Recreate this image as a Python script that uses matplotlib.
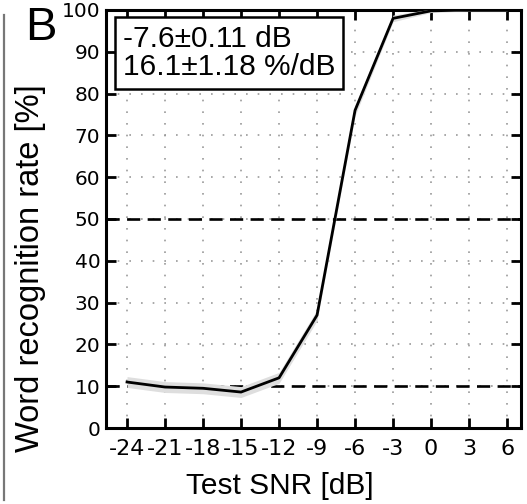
import matplotlib
matplotlib.use('Agg')
import matplotlib.pyplot as plt
from matplotlib.lines import Line2D
import numpy as np

# data
snr = [-24, -21, -18, -15, -12, -9, -6, -3, 0, 3, 6]
rate = [11.0, 9.8, 9.5, 8.6, 12.0, 27.0, 76.0, 98.0, 99.8, 100.0, 100.0]
band = [1.3, 1.3, 1.3, 1.3, 1.3, 1.3, 1.3, 0.8, 0.4, 0.2, 0.2]
ref_levels = [50, 10]
xticks = [-24, -21, -18, -15, -12, -9, -6, -3, 0, 3, 6]
yticks = [0, 10, 20, 30, 40, 50, 60, 70, 80, 90, 100]
fit_text = '-7.6±0.11 dB\n16.1±1.18 %/dB'

W, H = 527, 504
fig = plt.figure(figsize=(W / 100, H / 100), dpi=100)
ax = fig.add_axes([106 / W, 1 - 428 / H, 415 / W, 418 / H])

lo = np.array(rate) - np.array(band)
hi = np.array(rate) + np.array(band)

for lvl in ref_levels:
    ax.axhline(lvl, color='black', lw=1.9, ls=(0, (5, 2.8)), zorder=2)
ax.fill_between(snr, lo, hi, color='#dedede', lw=0, zorder=3)
ax.plot(snr, rate, color='black', lw=2.0, zorder=4)

ax.set_xlim(-25.66, 7.1)
ax.set_ylim(0, 100)
ax.set_xticks(xticks)
ax.set_yticks(yticks)
ax.set_xticklabels([str(v) for v in xticks], fontfamily='DejaVu Sans', fontsize=16)
ax.set_yticklabels([str(v) for v in yticks], fontfamily='DejaVu Sans', fontsize=14.5)
ax.tick_params(direction='in', length=7.5, width=2, top=True, right=True)
ax.tick_params(axis='x', pad=8)
ax.tick_params(axis='y', pad=4)
ax.grid(True, color='#999999', lw=1.2, ls=(0, (1, 6)), zorder=1)
for s in ax.spines.values():
    s.set_linewidth(2.2)

ax.set_xlabel('Test SNR [dB]', fontfamily='Liberation Sans', fontsize=21.5)
ax.set_ylabel('Word recognition rate [%]', fontfamily='Liberation Sans', fontsize=23.5)
ax.xaxis.set_label_coords(0.42, -0.105)
ax.yaxis.set_label_coords(-0.145, 0.383)

# fit parameters box
fig.text(123 / W, 1 - 25 / H, fit_text, ha='left', va='top',
         fontfamily='Liberation Sans', fontsize=21.5, linespacing=1.02,
         bbox=dict(boxstyle='square,pad=0.26', fc='white', ec='black', lw=1.8),
         zorder=10)

# panel letter and side rule
fig.text(25 / W, 1 - 40 / H, 'B', ha='left', va='baseline',
         fontfamily='Liberation Sans', fontsize=34)
fig.add_artist(Line2D([4 / W, 4 / W], [1 - 15 / H, 1 - 500 / H],
                      transform=fig.transFigure, color='#777777', lw=1.6))

fig.savefig('out.png', dpi=100)
